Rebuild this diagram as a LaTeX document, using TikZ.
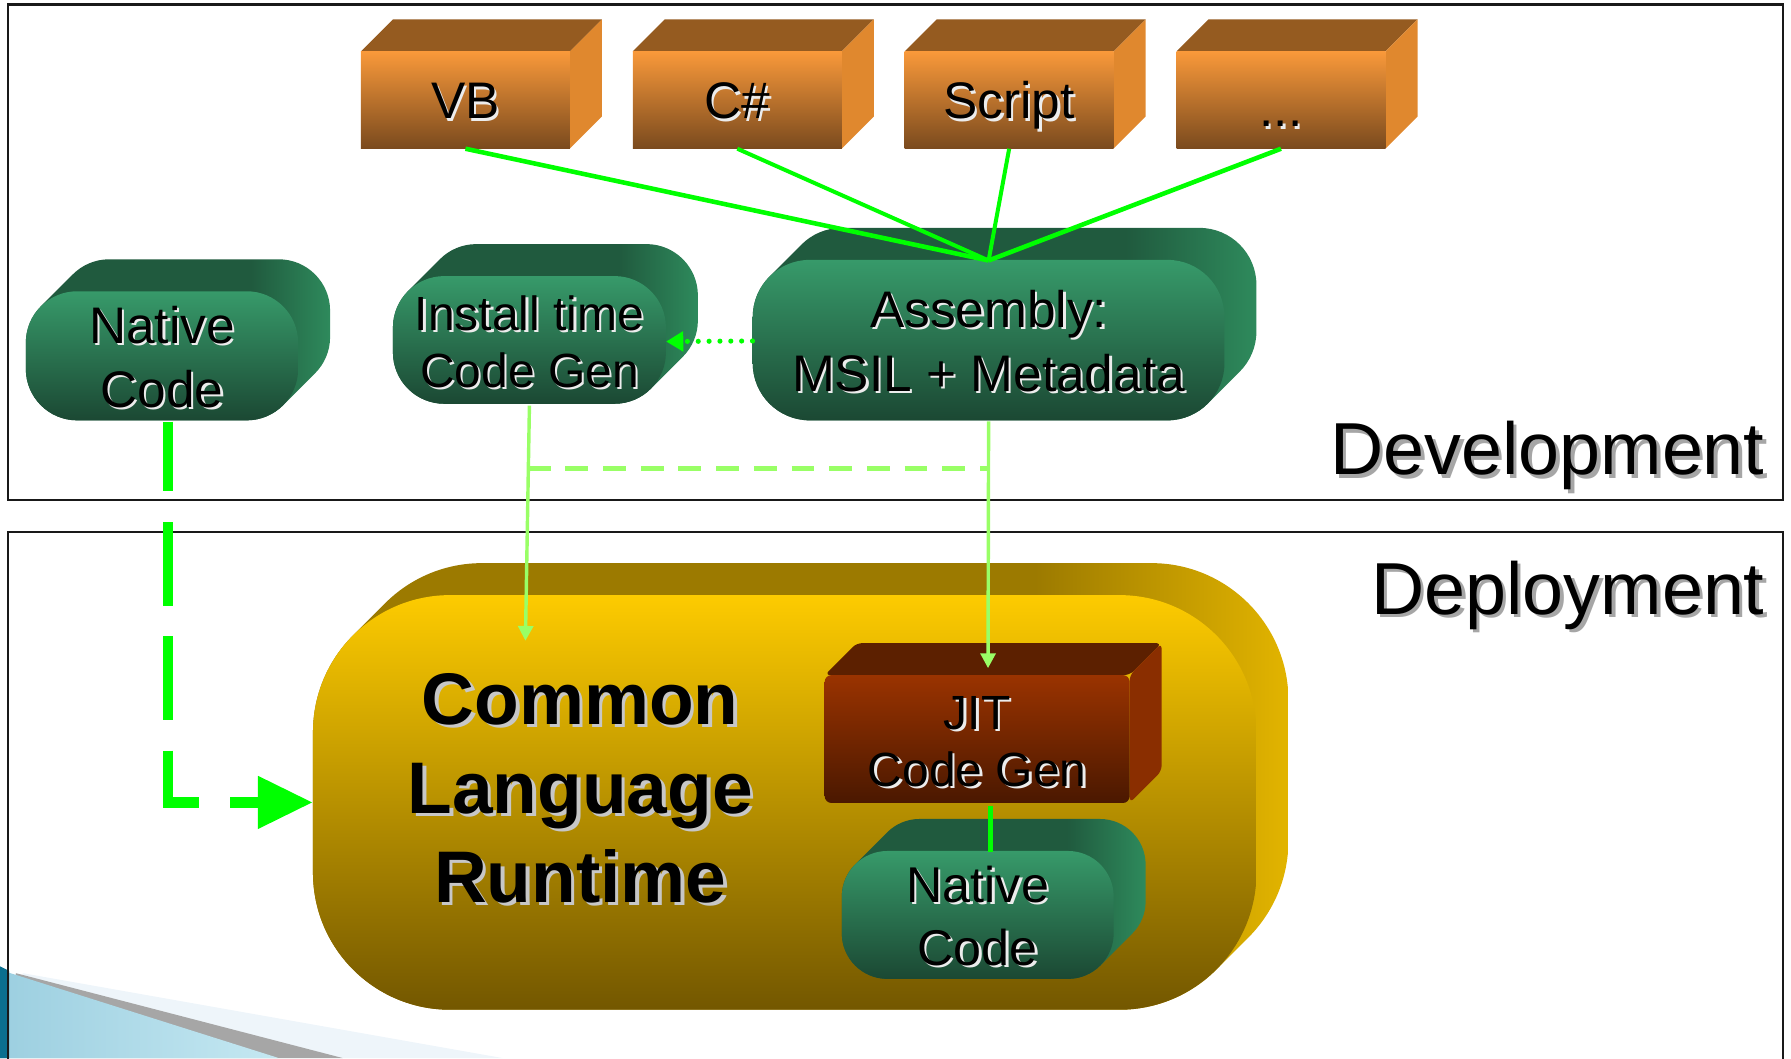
\documentclass[tikz,border=0pt]{standalone}
\usepackage{fontspec}
\setmainfont{Liberation Sans}
\usetikzlibrary{arrows.meta}
\definecolor{bgreen}{HTML}{00FF00}
\definecolor{lgreen}{HTML}{99FF66}
\definecolor{gTop}{HTML}{379A6A}
\definecolor{gMid}{HTML}{2B7C54}
\definecolor{gBot}{HTML}{1B4833}
\definecolor{gBack}{HTML}{205A3E}
\definecolor{gSide}{HTML}{2E8A5C}
\definecolor{oTop}{HTML}{F9993A}
\definecolor{oMid}{HTML}{C47A30}
\definecolor{oBot}{HTML}{7A4A1E}
\definecolor{oBack}{HTML}{955B20}
\definecolor{oSide}{HTML}{E0882E}
\definecolor{yTop}{HTML}{FDCB00}
\definecolor{yMid}{HTML}{CDA000}
\definecolor{yBot}{HTML}{735700}
\definecolor{yBack}{HTML}{9C7A00}
\definecolor{ySide}{HTML}{E2B400}
\definecolor{rTop}{HTML}{9A3300}
\definecolor{rBot}{HTML}{4A1800}
\definecolor{rBack}{HTML}{5C2000}
\definecolor{rSide}{HTML}{8A2E00}
\definecolor{decoD}{HTML}{0B6F8F}
\definecolor{decoB1}{HTML}{9CCFE0}
\definecolor{decoB2}{HTML}{C5E8F2}
\definecolor{decoG}{HTML}{A6A6A6}
\definecolor{decoL}{HTML}{EEF5FA}
\pgfdeclarehorizontalshading{gext}{100bp}{color(0bp)=(gBack); color(62bp)=(gBack); color(75bp)=(gSide); color(100bp)=(gSide)}
\pgfdeclarehorizontalshading{yext}{100bp}{color(0bp)=(yBack); color(62bp)=(yBack); color(75bp)=(ySide); color(100bp)=(ySide)}
\newcommand\gshape[5]{%
  \path[shade, shading=gext, rounded corners=#5pt] \foreach \o in {0,...,28} {(#1+\o,#2-\o) rectangle (#3+\o,#4-\o)};
  \path[top color=gTop, middle color=gMid, bottom color=gBot, rounded corners=#5pt] (#1,#2) rectangle (#3,#4);}
\newcommand\obox[1]{%
  \fill[oBack] (#1,45) -- (#1+28,17) -- (#1+211,17) -- (#1+183,45) -- cycle;
  \fill[oSide] (#1+183,45) -- (#1+211,17) -- (#1+211,102) -- (#1+183,130) -- cycle;
  \path[top color=oTop, middle color=oMid, bottom color=oBot] (#1,45) rectangle (#1+183,130);}
\newcommand\slabel[7]{%
  \node[#5, text=#6] at ([shift={(2,2)}]#2) {#7};
  \node[#5, minimum width=#3, minimum height=#4] (#1) at (#2) {#7};}
\begin{document}
\begin{tikzpicture}[x=1pt,y=-1pt,
  glbl/.style={inner sep=0pt, align=center, font=\fontsize{45}{56}\selectfont, text=black},
  ilbl/.style={inner sep=0pt, align=center, font=\fontsize{42}{50}\selectfont, text=black},
  nlbl/.style={inner sep=0pt, align=center, font=\fontsize{44}{55}\selectfont, text=black},
  olbl/.style={inner sep=0pt, align=center, font=\fontsize{45}{54}\selectfont, text=black, text height=33pt, text depth=0pt},
  seclbl/.style={inner sep=0pt, anchor=base east, font=\fontsize{64.5}{70}\selectfont},
  bg/.style={draw=bgreen, line width=4pt},
  lg/.style={draw=lgreen, line width=3pt},
  border/.style={draw=black!90, line width=2pt}]
\useasboundingbox (0,0) rectangle (1568,926.27);
\clip (0,0) rectangle (1568,926.27);
% decoration bottom left
\fill[decoL] (20,852) -- (440,926.3) -- (0,926.3) -- cycle;
\fill[decoG] (14,852) -- (300,926.3) -- (0,926.3) -- cycle;
\shade[left color=decoB1, right color=decoB2] (6,851) -- (244,926.3) -- (0,926.3) -- cycle;
\fill[decoD] (0,846) -- (8,850) -- (8,926.3) -- (0,926.3) -- cycle;
% section frames
\draw[border] (7,4) rectangle (1561,438);
\draw[border] (7,935) -- (7,466) -- (1561,466) -- (1561,935);
% CLR
\path[shade, shading=yext, rounded corners=120pt] \foreach \o in {0,...,28} {(274+\o,521-\o) rectangle (1100+\o,884-\o)};
\path[top color=yTop, middle color=yMid, bottom color=yBot, rounded corners=120pt] (274,521) rectangle (1100,884);
\node[minimum width=826pt, minimum height=363pt, inner sep=0pt] (clr) at (687,702.5) {};
\node[font=\bfseries\fontsize{64}{78}\selectfont, align=center, inner sep=0pt, text=black!22] at (511,693) {Common\\Language\\Runtime};
\node[font=\bfseries\fontsize{64}{78}\selectfont, align=center, inner sep=0pt] (clrt) at (508,690) {Common\\Language\\Runtime};
% JIT
\fill[rBack, rounded corners=5pt] (722,591) -- (750,563) -- (1017,563) -- (989,591) -- cycle;
\fill[rSide, rounded corners=5pt] (989,591) -- (1017,563) -- (1017,675) -- (989,703) -- cycle;
\path[top color=rTop, bottom color=rBot, rounded corners=6pt] (722,591) rectangle (989,703);
% green shapes
\gshape{737}{745}{975}{857}{40}
\gshape{22.6}{255}{261}{368}{45}
\gshape{344}{241.7}{583}{353.5}{45}
\gshape{659}{227.5}{1072}{368}{50}
% orange boxes
\obox{316}
\obox{554}
\obox{792}
\obox{1030}
% labels
\slabel{vb}{407.5,87.5}{183pt}{85pt}{olbl}{white!85!gray}{VB}
\slabel{cs}{645.5,87.5}{183pt}{85pt}{olbl}{white!85!gray}{C\#}
\slabel{scr}{883.5,87.5}{183pt}{85pt}{olbl}{white!85!gray}{Script}
\slabel{etc}{1121.5,87.5}{183pt}{85pt}{olbl}{white!85!gray}{\raisebox{-7pt}{...}}
\slabel{nc1}{141.8,312.5}{238.4pt}{113pt}{glbl}{white!85!gray}{Native\\Code}
\slabel{inst}{463.5,299}{239pt}{111.8pt}{ilbl}{white!85!gray}{Install time\\Code Gen}
\slabel{asm}{865.5,298.5}{413pt}{140.5pt}{glbl}{white!85!gray}{Assembly:\\MSIL + Metadata}
\slabel{jit}{855.5,649}{267pt}{112pt}{ilbl}{white!85!gray}{JIT\\Code Gen}
\slabel{nc2}{856,802}{238pt}{112pt}{nlbl}{white!85!gray}{Native\\Code}
\node[seclbl, text=black!35] at (1548,418.6) {Development};
\node[seclbl] (dev) at (1545,415.6) {Development};
\node[seclbl, text=black!35] at (1548,541) {Deployment};
\node[seclbl] (dep) at (1545,538) {Deployment};
% connectors
\coordinate (cI) at (460,561);
\coordinate (cJ) at (865,585);
\coordinate (dA) at (462,410);
\coordinate (dB) at (865,410);
\draw[bg] (vb.south) -- (asm.north);
\draw[bg, line width=3.5pt] (cs.south) -- (asm.north);
\draw[bg, line width=3.5pt] (scr.south) -- (asm.north);
\draw[bg] (etc.south) -- (asm.north);
\draw[bgreen, line width=4.5pt, line cap=round, dash pattern=on 0pt off 9.5pt, -{Triangle[length=15pt,width=17pt]}] (asm.west) -- (inst.east);
\draw[lg, line width=4pt, dash pattern=on 20pt off 13pt] (dA) -- (dB);
\draw[lg, -{Triangle[length=13pt,width=13pt]}] (inst.south) -- (cI);
\draw[lg, -{Triangle[length=13pt,width=13pt]}] (asm.south) -- (cJ);
\draw[bgreen, line width=4pt] ([xshift=11.5pt]jit.south) -- ([xshift=11pt]nc2.north);
\draw[bgreen, line width=9pt, dash pattern=on 73pt off 27pt, dash phase=12pt, -{Triangle[length=48pt,width=44pt]}] ([xshift=5pt]nc1.south) |- (clr.west);
\end{tikzpicture}
\end{document}
